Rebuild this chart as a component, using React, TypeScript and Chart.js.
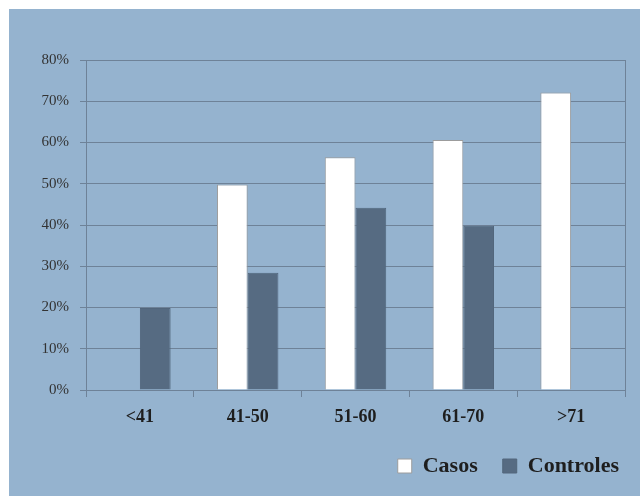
import React, { useEffect, useRef } from "react";
import { Chart, registerables } from "chart.js";

Chart.register(...registerables);

const categories = ["<41", "41-50", "51-60", "61-70", ">71"];
const casos = [null, 49.8, 56.4, 60.6, 72.1];
const controles = [19.9, 28.4, 44.2, 39.8, null];
const yTicks = [0, 10, 20, 30, 40, 50, 60, 70, 80];

const BG = "#95b3cf";
const GRID = "#6e8298";
const FONT = "'Liberation Serif', 'Times New Roman', serif";

export default function App() {
  const ref = useRef<HTMLCanvasElement | null>(null);
  useEffect(() => {
    if (!ref.current) return;
    const chart = new Chart(ref.current, {
      type: "bar",
      data: {
        labels: categories,
        datasets: [
          {
            label: "Casos",
            data: casos as any,
            backgroundColor: "#ffffff",
            borderColor: "#9c9c9c",
            borderWidth: 1,
            categoryPercentage: 0.57,
            barPercentage: 1,
          },
          {
            label: "Controles",
            data: controles as any,
            backgroundColor: "#566b82",
            borderColor: "#52667c",
            borderWidth: 1,
            categoryPercentage: 0.57,
            barPercentage: 1,
          },
        ],
      },
      options: {
        responsive: false,
        animation: false,
        layout: { padding: { left: 27, top: 51, right: -4, bottom: 9 } },
        plugins: {
          tooltip: { enabled: false },
          legend: {
            position: "bottom",
            align: "end",
            labels: {
              boxWidth: 14,
              boxHeight: 14,
              padding: 25,
              color: "#1e1e1e",
              font: { family: FONT, size: 22, weight: "bold" },
            },
          },
        },
        scales: {
          x: {
            grid: {
              drawOnChartArea: false,
              drawTicks: true,
              tickLength: 7,
              color: GRID,
            },
            border: { color: GRID },
            ticks: {
              color: "#1e1e1e",
              padding: 10,
              font: { family: FONT, size: 18, weight: "bold" },
            },
            afterFit: (s: any) => {
              s.height = 40;
            },
          },
          y: {
            min: 0,
            max: 80,
            afterBuildTicks: (s: any) => {
              s.ticks = yTicks.map((v) => ({ value: v }));
            },
            grid: { color: GRID, tickLength: 6 },
            border: { color: GRID },
            ticks: {
              color: "#333333",
              padding: 11,
              font: { family: FONT, size: 15 },
              callback: (v: any) => v + "%",
            },
            afterFit: (s: any) => {
              s.width = 50;
            },
          },
          y1: {
            position: "right",
            grid: { display: false },
            ticks: { display: false },
            border: { display: true, color: GRID },
            afterFit: (s: any) => {
              s.width = 19;
            },
          },
        },
      },
    });
    return () => chart.destroy();
  }, []);
  return (
    <div
      style={{
        position: "absolute",
        left: 9,
        top: 9,
        width: 631,
        height: 487,
        background: BG,
      }}
    >
      <canvas ref={ref} width={631} height={487} />
    </div>
  );
}
